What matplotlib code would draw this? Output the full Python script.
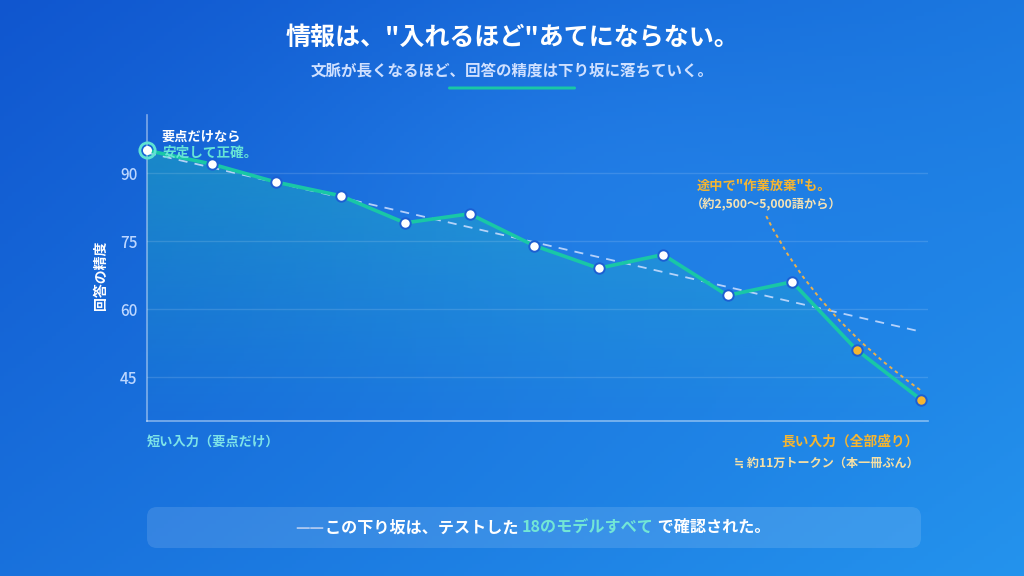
import numpy as np
import matplotlib
matplotlib.use('Agg')
import matplotlib.pyplot as plt
from matplotlib.patches import FancyBboxPatch, PathPatch, Polygon
from matplotlib.path import Path

plt.rcParams['font.family'] = ['Noto Sans CJK JP', 'DejaVu Sans']

# data
steps = np.arange(13)
accuracy = [95, 92, 88, 85, 79, 81, 74, 69, 72, 63, 66, 51, 40]
dropout_idx = [11, 12]
trend_x = [0, 12]
trend_y = [94.5, 55]
# quadratic bezier for the "give up" curve (start, control, end)
giveup_curve = [(9.6, 80.5), (10.36, 58.5), (12, 42)]
yticks = [45, 60, 75, 90]
ymin, ymax = 35.3, 102.8

TEAL = '#19c7a6'
ORANGE = '#f5b531'
W, H = 1024, 576

fig = plt.figure(figsize=(10.24, 5.76), dpi=100)


def fx(x):
    return x / W


def fy(y):
    return 1 - y / H


# background gradient
bg = fig.add_axes([0, 0, 1, 1])
bg.axis('off')
xx, yy = np.meshgrid(np.linspace(0, 1, 256), np.linspace(0, 1, 144))
t = 0.55 * xx + 0.45 * yy
c0 = np.array([0x10, 0x56, 0xcf]) / 255
c1 = np.array([0x24, 0x93, 0xed]) / 255
img = c0 + (c1 - c0) * t[..., None]
glow = np.exp(-(((xx - 0.55) / 0.3) ** 2 + ((yy - 0.3) / 0.3) ** 2))
img = img + glow[..., None] * np.array([0.03, 0.04, 0.03])
bg.imshow(np.clip(img, 0, 1), extent=[0, 1, 0, 1], aspect='auto', origin='upper')
bg.set_xlim(0, 1)
bg.set_ylim(0, 1)

# main chart
ax = fig.add_axes([fx(147), fy(421), fx(927.5 - 147), (421 - 115) / H])
ax.set_facecolor('none')

# gradient fill under the line
verts = list(zip(steps, accuracy)) + [(steps[-1], ymin), (steps[0], ymin)]
poly = Polygon(verts, closed=True, facecolor='none', edgecolor='none')
ax.add_patch(poly)
grad = np.zeros((100, 1, 4))
grad[..., :3] = matplotlib.colors.to_rgb('#22c6b4')
grad[:, 0, 3] = np.linspace(0.38, 0.0, 100)
im = ax.imshow(grad, extent=[0, 12, ymin, max(accuracy)], aspect='auto',
               origin='upper', zorder=1)
im.set_clip_path(poly)

ax.plot(trend_x, trend_y, color='#cfe0ff', lw=1.3, dashes=(5, 4), alpha=0.85, zorder=2)

curve = Path(giveup_curve, [Path.MOVETO, Path.CURVE3, Path.CURVE3])
ax.add_patch(PathPatch(curve, fill=False, edgecolor='#e8b04e', lw=1.4,
                       linestyle=(0, (1.8, 1.8)), zorder=2.5))

ax.plot(steps, accuracy, color=TEAL, lw=2.6, zorder=3, solid_joinstyle='round')

normal = [i for i in steps if i not in dropout_idx and i != 0]
ax.plot([steps[i] for i in normal], [accuracy[i] for i in normal], 'o', ms=7.5,
        mfc='white', mec='#1c5fd2', mew=1.4, zorder=4, clip_on=False)
ax.plot([steps[i] for i in dropout_idx], [accuracy[i] for i in dropout_idx], 'o', ms=7.5,
        mfc=ORANGE, mec='#1c5fd2', mew=1.4, zorder=4, clip_on=False)
ax.plot(steps[0], accuracy[0], 'o', ms=11, mfc='none', mec='#5fe3d3', mew=2, zorder=4, clip_on=False)
ax.plot(steps[0], accuracy[0], 'o', ms=6.5, mfc='white', mec='none', zorder=5, clip_on=False)

ax.set_xlim(0, 12.1)
ax.set_ylim(ymin, ymax)
ax.set_xticks([])
ax.set_yticks(yticks)
ax.grid(axis='y', color='white', alpha=0.13, lw=1)
ax.tick_params(axis='y', length=0, pad=7, labelcolor='#bdd7ff', labelsize=11)
for lbl in ax.get_yticklabels():
    lbl.set_fontweight('medium')
for s in ['top', 'right']:
    ax.spines[s].set_visible(False)
for s in ['left', 'bottom']:
    ax.spines[s].set_color((1, 1, 1, 0.45))
    ax.spines[s].set_linewidth(1.2)

fig.text(fx(101), fy(275), '回答の精度', rotation=90, ha='center', va='center',
         color='white', fontsize=10, fontweight='bold')

# titles
fig.text(0.5, fy(38), '情報は、"入れるほど"あてにならない。', ha='center', va='center',
         color='white', fontsize=18, fontweight='bold')
fig.text(0.5, fy(71), '文脈が長くなるほど、回答の精度は下り坂に落ちていく。', ha='center', va='center',
         color='#cfe0ff', fontsize=11.2, fontweight='bold')
fig.add_artist(FancyBboxPatch((4.48, (H - 89.5) / 100), 1.28, 0.03,
                              boxstyle='round,pad=0,rounding_size=0.015',
                              transform=fig.dpi_scale_trans, facecolor=TEAL, edgecolor='none'))

# annotations
fig.text(fx(162), fy(137), '要点だけなら', ha='left', va='center', color='white',
         fontsize=9.5, fontweight='bold')
fig.text(fx(162), fy(153), '安定して正確。', ha='left', va='center', color='#66e4d6',
         fontsize=9.8, fontweight='bold')
fig.text(fx(764), fy(186), '途中で"作業放棄"も。', ha='center', va='center', color=ORANGE,
         fontsize=9.5, fontweight='bold')
fig.text(fx(766), fy(205), '（約2,500〜5,000語から）', ha='center', va='center', color='#f3e2b5',
         fontsize=8.8, fontweight='bold')

fig.text(fx(147), fy(442), '短い入力（要点だけ）', ha='left', va='center', color='#7ee3e8',
         fontsize=9.5, fontweight='bold')
fig.text(fx(919), fy(442), '長い入力（全部盛り）', ha='right', va='center', color=ORANGE,
         fontsize=9.9, fontweight='bold')
fig.text(fx(919), fy(463), '≒ 約11万トークン（本一冊ぶん）', ha='right', va='center', color='#f5e0a6',
         fontsize=8.7, fontweight='bold')

# bottom banner
fig.add_artist(FancyBboxPatch((1.47, (H - 548) / 100), 7.74, 0.41,
                              boxstyle='round,pad=0,rounding_size=0.1',
                              transform=fig.dpi_scale_trans, facecolor='white', alpha=0.12,
                              edgecolor='none'))
parts = [('——', '#a9c6f0'), ('この下り坂は、テストした ', 'white'),
         ('18のモデルすべて', '#72e6d6'), (' で確認された。', 'white')]
fig.canvas.draw()
r = fig.canvas.get_renderer()
items = []
for s, c in parts:
    tx = fig.text(0, fy(528), s, color=c, fontsize=11.6, fontweight='bold', ha='left', va='center')
    items.append((tx, tx.get_window_extent(r).width))
total = sum(w for _, w in items)
x = 533 - total / 2
for tx, w in items:
    tx.set_x(fx(x))
    x += w

fig.savefig('out.png', dpi=100)
